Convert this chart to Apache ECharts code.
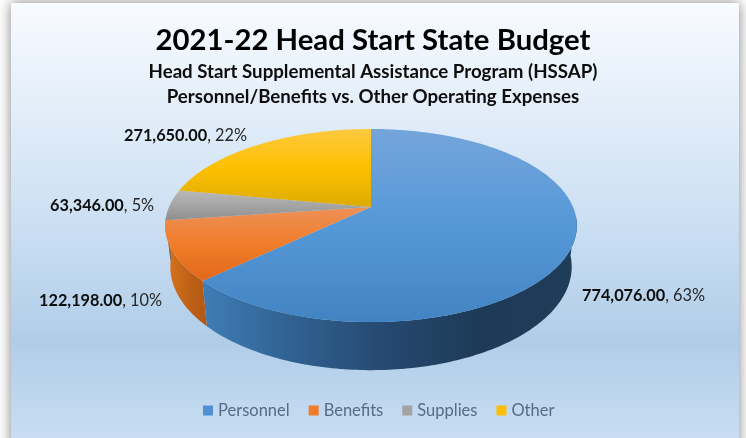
<!DOCTYPE html>
<html>
<head>
<meta charset="utf-8">
<style>
  html, body { margin: 0; padding: 0; background: #fff; }
  #chart { width: 746px; height: 438px; }
</style>
<script src="https://cdn.jsdelivr.net/npm/echarts@6/dist/echarts.min.js"></script>
</head>
<body>
<div id="chart"></div>
<script>
const categories = ['Personnel', 'Benefits', 'Supplies', 'Other']
const values = [774076, 122198, 63346, 271650]
const valueLabels = ['774,076.00', '122,198.00', '63,346.00', '271,650.00']
const percentLabels = ['63%', '10%', '5%', '22%']

// top face gradients, light to dark
const topColors = [
  ['#74a5db', '#5598d8', '#4283c3'],
  ['#ee9058', '#f07d2a', '#e1681a'],
  ['#b8b8b8', '#a5a5a5', '#8f8f8f'],
  ['#fdc940', '#fdc000', '#dcab00']
]
const wallColors = [
  ['#3f7db6', '#30608f', '#25486f', '#1d3a56', '#1f3c59'],
  ['#d9761f', '#c9691a', '#bb5f16', '#b25813'],
  ['#8c8c8c', '#7d7d7d', '#707070', '#666666'],
  ['#c99c00', '#b88f00', '#a88200', '#987500']
]
const legendColors = ['#4f8fd2', '#ef7b2b', '#a3a3a3', '#fcbf07']
// where each data label sits (left edge, middle)
const labelPos = [[582, 296], [39, 301], [50, 206], [124, 136]]

const font = 'Lato, "Open Sans", sans-serif'
const total = values.reduce((a, b) => a + b, 0)

// the pie is a circle seen in perspective
const cx = 371
const cy = 207
const A = 202
const B = 93
const K = 0.192
const wallSx = 0.975
const wallSy = 1.07
const wallDy = 40

function rim(a) {
  const u = Math.sin(a)
  const v = Math.cos(a)
  const w = 1 + K * v
  return [A * u / w, -B * v / w]
}
function topPoint(a) {
  const p = rim(a)
  return [cx + p[0], cy + p[1]]
}
function bottomPoint(a) {
  const p = rim(a)
  return [cx + p[0] * wallSx, cy + p[1] * wallSy + wallDy]
}
function arc(a0, a1, fn) {
  const n = Math.max(2, Math.ceil((a1 - a0) * 60))
  const pts = []
  for (let i = 0; i <= n; i++) pts.push(fn(a0 + (a1 - a0) * i / n))
  return pts
}
function gradient(colors, horizontal) {
  return new echarts.graphic.LinearGradient(0, 0, horizontal ? 1 : 0, horizontal ? 0 : 1,
    colors.map((c, i) => ({ offset: i / (colors.length - 1), color: c })))
}

const wallFrom = 95 * Math.PI / 180
const wallTo = 264 * Math.PI / 180

function renderSlice(i) {
  const before = values.slice(0, i).reduce((a, b) => a + b, 0)
  const a0 = before / total * Math.PI * 2
  const a1 = (before + values[i]) / total * Math.PI * 2
  const children = []

  const w0 = Math.max(a0, wallFrom)
  const w1 = Math.min(a1, wallTo)
  if (w1 > w0) {
    const wall = arc(w0, w1, topPoint).concat(arc(w0, w1, bottomPoint).reverse())
    children.push({
      type: 'polygon',
      z2: 1,
      shape: { points: wall },
      style: { fill: gradient(wallColors[i], true) }
    })
  }
  children.push({
    type: 'polygon',
    z2: 5,
    shape: { points: [[cx, cy]].concat(arc(a0, a1, topPoint)) },
    style: { fill: gradient(topColors[i], false) }
  })
  children.push({
    type: 'text',
    z2: 10,
    x: labelPos[i][0],
    y: labelPos[i][1],
    style: {
      text: '{b|' + valueLabels[i] + '}{n|, ' + percentLabels[i] + '}',
      verticalAlign: 'middle',
      rich: {
        b: { font: 'bold 16.3px ' + font, fill: '#0d0d0d' },
        n: { font: '16.3px ' + font, fill: '#262626' }
      }
    }
  })
  return { type: 'group', children }
}

const chart = echarts.init(document.getElementById('chart'))
chart.setOption({
  animation: false,
  backgroundColor: '#ffffff',
  title: {
    text: '2021-22 Head Start State Budget',
    subtext: 'Head Start Supplemental Assistance Program (HSSAP)\nPersonnel/Benefits vs. Other Operating Expenses',
    left: 'center',
    top: 18,
    itemGap: 0,
    textStyle: { fontFamily: font, fontWeight: 'bold', fontSize: 29.3, color: '#000000', lineHeight: 36 },
    subtextStyle: { fontFamily: font, fontWeight: 'bold', fontSize: 18.7, color: '#0d0d0d', lineHeight: 25 }
  },
  legend: {
    data: categories,
    left: 198,
    top: 397,
    icon: 'rect',
    itemWidth: 10,
    itemHeight: 10,
    itemGap: 19,
    textStyle: { fontFamily: font, fontSize: 16.5, color: '#586a85' }
  },
  graphic: [{
    type: 'rect',
    z: -10,
    shape: { x: 11, y: 3, width: 728, height: 445 },
    style: {
      fill: new echarts.graphic.LinearGradient(0, 0, 0, 1, [
        { offset: 0, color: '#f8fbff' },
        { offset: 0.5, color: '#cbdff3' },
        { offset: 0.76, color: '#b0cde8' },
        { offset: 1, color: '#cbdff4' }
      ]),
      shadowBlur: 12,
      shadowColor: 'rgba(0,0,0,0.5)'
    }
  }],
  series: categories.map((name, i) => ({
    type: 'custom',
    name,
    coordinateSystem: 'none',
    silent: true,
    itemStyle: { color: legendColors[i] },
    data: [values[i]],
    renderItem: () => renderSlice(i)
  }))
})
</script>
</body>
</html>
